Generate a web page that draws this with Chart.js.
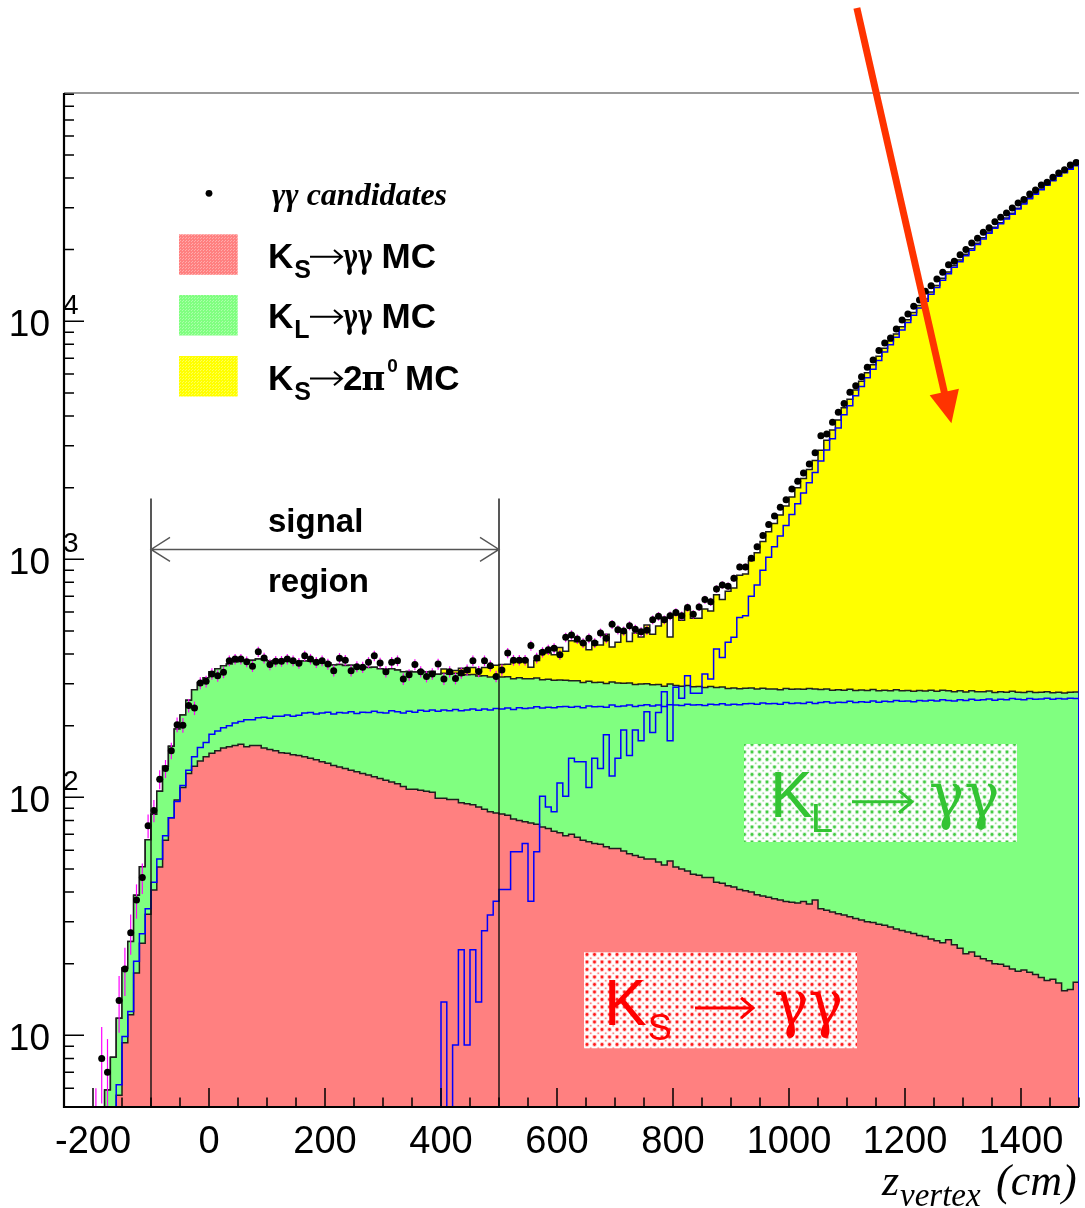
<!DOCTYPE html>
<html>
<head>
<meta charset="utf-8">
<script src="https://cdn.jsdelivr.net/npm/chart.js@4.4.1/dist/chart.umd.min.js"></script>
<style>
  html, body { margin: 0; padding: 0; background: #fff; }
  canvas { display: block; }
</style>
</head>
<body>
<canvas id="zvertex" width="1085" height="1208"></canvas>
<script>
// 10 cm bins from -250 to 1500 cm, one entry per bin (bin centres -245 ... 1495)
const zAxisMin = -250, zAxisMax = 1500, binWidth = 10;
const yAxisMin = 5, yAxisMax = 91000;
const xLabelValues = [-200, 0, 200, 400, 600, 800, 1000, 1200, 1400];
const yLabelValues = [10, 100, 1000, 10000];

// K_S -> gamma gamma MC
const ksGammaGamma = [
  0, 0, 0, 0, 0.3, 0.8, 1.6, 2.6, 3.8, 5.6,
  9.3, 12.2, 18.3, 24.4, 32.3, 40.8, 51, 66, 82, 97.5,
  110, 126, 135, 142, 148, 153, 157, 161, 163, 165,
  167, 163, 165, 165, 161, 159, 157, 154, 153, 151,
  150, 148, 146, 144, 141, 139, 136, 134, 132, 130,
  128, 126, 124, 122, 120, 118, 116, 114, 111, 108,
  108, 107, 106, 105, 99, 99, 98, 98, 95, 94,
  93, 91, 89, 87, 86, 85, 84, 81, 80, 79,
  78, 77, 75, 74, 72, 71, 69, 70, 68, 66,
  65, 64, 63.5, 62, 61, 61, 59.5, 58, 57, 56,
  55, 55, 53.5, 52, 54, 51, 50, 49, 47.5, 47,
  46, 46, 44, 43.5, 42.5, 42, 41, 40.5, 40, 39,
  38.5, 38, 37.5, 37, 36.5, 36.2, 36, 36.5, 35.6, 37,
  34, 33.5, 33, 32.4, 32, 31.5, 31, 30.5, 30, 29.8,
  29.3, 29, 28.5, 28, 27.6, 27.2, 26.8, 26.3, 26, 25.4,
  25, 24.5, 25.2, 24, 23.2, 22, 22.4, 21.5, 21, 20.6,
  20, 19.9, 19.5, 19, 18.6, 18.8, 18.4, 18, 17.5, 17,
  17.2, 16.6, 15.4, 15.6, 16.7
];

// K_L -> gamma gamma MC
const klGammaGamma = [
  0, 0, 0, 0, 0.4, 1.0, 2.0, 3.3, 4.3, 6.2,
  9.9, 12.6, 20.5, 26.7, 34, 44, 55, 69, 82, 96,
  112, 130, 148, 162, 170, 184, 190, 196, 200, 205,
  208, 212, 212, 216, 217, 215, 219, 219, 222, 219,
  221, 226, 227, 224, 226, 228, 224, 227, 226, 229,
  225, 228, 227, 230, 227, 226, 231, 229, 226, 230,
  228, 232, 230, 233, 230, 233, 231, 234, 231, 233,
  235, 232, 235, 233, 236, 235, 237, 234, 238, 236,
  237, 240, 237, 239, 238, 240, 241, 239, 241, 238,
  242, 240, 241, 239, 244, 241, 242, 244, 241, 243,
  245, 242, 244, 241, 245, 244, 243, 246, 244, 245,
  243, 246, 245, 247, 244, 246, 245, 247, 248, 246,
  249, 247, 248, 246, 250, 248, 249, 248, 251, 248,
  250, 252, 249, 251, 250, 253, 250, 252, 251, 254,
  251, 253, 252, 255, 253, 254, 252, 255, 254, 256,
  254, 257, 255, 254, 257, 255, 258, 256, 257, 259,
  256, 258, 257, 260, 258, 257, 260, 258, 259, 261,
  258, 260, 259, 261, 260
];

// K_S -> 2 pi0 MC
const ks2Pi0 = [
  0, 0, 0, 0, 0, 0, 0, 0, 0, 0,
  0, 0, 0, 0, 0, 0, 0, 0, 0, 0,
  0, 0, 0, 0, 0, 0, 0, 0, 0, 0,
  0, 0, 0, 0, 0, 0, 0, 0, 0, 0,
  0, 0, 0, 0, 0, 0, 0, 0, 0, 0,
  0, 0, 0, 0, 0, 0, 0, 0, 0, 0,
  0, 0, 0, 0, 0, 13.8, 0, 9.1, 22.9, 9.1,
  22.9, 13.8, 27.5, 32, 36.6, 41, 41, 59, 59, 64,
  36.6, 59, 101, 91, 87, 115, 101, 146, 141, 141,
  110, 146, 132, 183, 123, 146, 192, 150, 192, 173,
  229, 187, 227, 278, 173, 290, 261, 324, 274, 274,
  330, 314, 420, 387, 448, 470, 570, 579, 700, 780,
  900, 1020, 1130, 1252, 1388, 1544, 1711, 1899, 2096, 2316,
  2588, 2878, 3211, 3565, 4050, 4420, 4860, 5322, 5794, 6286,
  6842, 7421, 7973, 8560, 9195, 9873, 10606, 11374, 12125, 12990,
  13850, 14865, 15836, 16866, 17804, 18835, 19868, 21013, 22174, 23449,
  24567, 25678, 26899, 28183, 29600, 31100, 32753, 34159, 35699, 37306,
  38899, 40652, 42088, 43469, 45010
];

// gamma gamma candidates (data)
const candidates = [
  0, 0, 0, 0, 0, 4, 8, 7, 0, 14,
  19, 27, 37, 46, 76, 88, 119, 132, 157, 202,
  201, 243, 237, 302, 307, 330, 324, 335, 375, 381,
  381, 371, 355, 409, 385, 361, 373, 373, 381, 375,
  366, 393, 381, 369, 375, 363, 340, 384, 377, 340,
  354, 352, 369, 393, 367, 337, 369, 375, 314, 327,
  361, 337, 322, 330, 363, 314, 337, 316, 333, 343,
  375, 338, 375, 357, 322, 343, 404, 377, 377, 377,
  434, 385, 407, 417, 423, 397, 470, 481, 462, 445,
  466, 445, 490, 466, 533, 506, 500, 526, 508, 496,
  503, 557, 576, 557, 579, 598, 579, 627, 587, 631,
  677, 663, 750, 780, 771, 832, 929, 929, 1010, 1130,
  1260, 1400, 1520, 1653, 1780, 1974, 2128, 2306, 2515, 2800,
  3306, 3360, 3764, 4150, 4519, 5035, 5358, 5850, 6410, 6875,
  7530, 8110, 8510, 9290, 10120, 10720, 11560, 12280, 13360, 14110,
  15070, 16080, 17260, 17880, 19010, 20010, 21340, 22340, 23670, 24740,
  26200, 27330, 28510, 29930, 31410, 32450, 34290, 35640, 37380, 38370,
  40270, 41990, 43350, 45370, 46500
];

// signal region and the pointer arrow, in axis units
const signalRegion = [-100, 500];
const signalLineTop = 1800;
const signalArrowLevel = 1100;
const pointerFrom = { z: 1117, n: 207000 };
const pointerTo = { z: 1280, n: 3730 };

const binEdge = i => zAxisMin + i * binWidth;
// empty bins sit below the visible range (the log axis drops zeros)
const floorValue = yAxisMin / 100;

// step outline: value held from left edge of each bin, closed down at the right end
function histo(vals) {
  const pts = vals.map((v, i) => ({ x: binEdge(i), y: v > 0 ? v : floorValue }));
  pts.push({ x: zAxisMax, y: vals[vals.length - 1] }, { x: zAxisMax, y: floorValue });
  return pts;
}

const ksPlusKl = ksGammaGamma.map((v, i) => v + klGammaGamma[i]);
const mcTotal = ksPlusKl.map((v, i) => v + ks2Pi0[i]);

const SANS = '"Liberation Sans", Arial, Helvetica, sans-serif';
const SERIF = '"Liberation Serif", "Times New Roman", serif';
const GREEK = '"DejaVu Serif", "Liberation Serif", serif';

function put(ctx, text, x, y, font, color, align) {
  ctx.font = font;
  ctx.fillStyle = color;
  ctx.textAlign = align || 'left';
  ctx.textBaseline = 'alphabetic';
  ctx.fillText(text, x, y);
  return x + ctx.measureText(text).width;
}

// text squeezed horizontally (greek glyphs are wider than the symbol font)
function putNarrow(ctx, text, x, y, font, color, sx) {
  ctx.save();
  ctx.translate(x, y);
  ctx.scale(sx, 1);
  const w = put(ctx, text, 0, 0, font, color);
  ctx.restore();
  return x + w * sx;
}

function thinArrow(ctx, x1, x2, y, w, head, color) {
  ctx.save();
  ctx.strokeStyle = color;
  ctx.lineWidth = w;
  ctx.lineJoin = 'miter';
  ctx.beginPath();
  ctx.moveTo(x1, y); ctx.lineTo(x2, y);
  ctx.moveTo(x2 - head, y - head * 0.85); ctx.lineTo(x2, y); ctx.lineTo(x2 - head, y + head * 0.85);
  ctx.stroke();
  ctx.restore();
}

function dotPattern(ctx, color, halo) {
  const c = document.createElement('canvas');
  c.width = 15; c.height = 15;
  const g = c.getContext('2d');
  g.fillStyle = '#fff';
  g.fillRect(0, 0, 15, 15);
  const spots = [[2, 2], [9.5, 2], [2, 9.5], [9.5, 9.5], [5.75, 5.75], [13.25, 5.75], [5.75, 13.25], [13.25, 13.25]];
  spots.forEach(([px, py], k) => {
    const main = k < 4;
    g.globalAlpha = main ? 1 : 0.55;
    g.fillStyle = halo;
    g.beginPath(); g.arc(px, py, main ? 2.4 : 1.6, 0, Math.PI * 2); g.fill();
    g.fillStyle = color;
    g.beginPath(); g.arc(px, py, main ? 1.4 : 0.8, 0, Math.PI * 2); g.fill();
  });
  return ctx.createPattern(c, 'repeat');
}

function speckle(ctx, base) {
  const c = document.createElement('canvas');
  c.width = 3; c.height = 3;
  const g = c.getContext('2d');
  g.fillStyle = base;
  g.fillRect(0, 0, 3, 3);
  g.fillStyle = 'rgba(255,255,255,0.35)';
  g.fillRect(0, 0, 1, 1);
  g.fillRect(2, 1, 1, 1);
  return ctx.createPattern(c, 'repeat');
}

// magenta sqrt(N) error bars underneath the data markers
const errorBars = {
  id: 'errorBars',
  beforeDatasetDraw(chart, args) {
    if (args.index !== 0) return;
    const { ctx, chartArea: a, scales: { x, y } } = chart;
    ctx.save();
    ctx.beginPath();
    ctx.rect(a.left, a.top, a.right - a.left, a.bottom - a.top);
    ctx.clip();
    ctx.strokeStyle = '#ff00ff';
    ctx.lineWidth = 1.2;
    candidates.forEach((n, i) => {
      if (!n) return;
      const px = x.getPixelForValue(binEdge(i) + binWidth / 2);
      const e = Math.sqrt(n);
      const lo = n - e > 0 ? n - e : floorValue;
      ctx.beginPath();
      ctx.moveTo(px, y.getPixelForValue(lo));
      ctx.lineTo(px, y.getPixelForValue(n + e));
      ctx.stroke();
    });
    ctx.restore();
  }
};

// ROOT-like frame: inward ticks, 10^n labels, axis title, annotations
const rootFrame = {
  id: 'rootFrame',
  afterDatasetsDraw(chart) {
    const { ctx, chartArea: a, scales: { x, y } } = chart;
    ctx.save();

    // signal region
    ctx.strokeStyle = '#111';
    ctx.lineWidth = 1.4;
    signalRegion.forEach(z => {
      const px = x.getPixelForValue(z);
      ctx.beginPath();
      ctx.moveTo(px, y.getPixelForValue(signalLineTop));
      ctx.lineTo(px, a.bottom);
      ctx.stroke();
    });
    const sx1 = x.getPixelForValue(signalRegion[0]);
    const sx2 = x.getPixelForValue(signalRegion[1]);
    const sy = y.getPixelForValue(signalArrowLevel);
    ctx.strokeStyle = '#555';
    ctx.lineWidth = 1.4;
    ctx.beginPath();
    ctx.moveTo(sx1, sy); ctx.lineTo(sx2, sy);
    ctx.moveTo(sx1 + 19, sy - 12); ctx.lineTo(sx1, sy); ctx.lineTo(sx1 + 19, sy + 12);
    ctx.moveTo(sx2 - 19, sy - 12); ctx.lineTo(sx2, sy); ctx.lineTo(sx2 - 19, sy + 12);
    ctx.stroke();
    put(ctx, 'signal', 268, 531.5, 'bold 33px ' + SANS, '#000');
    put(ctx, 'region', 268, 591.5, 'bold 33px ' + SANS, '#000');

    // frame
    ctx.strokeStyle = '#777';
    ctx.lineWidth = 1.5;
    ctx.beginPath();
    ctx.moveTo(a.left, a.top); ctx.lineTo(a.right, a.top);
    ctx.stroke();
    ctx.strokeStyle = '#000';
    ctx.lineWidth = 2.2;
    ctx.beginPath();
    ctx.moveTo(a.left, a.top); ctx.lineTo(a.left, a.bottom); ctx.lineTo(a.right, a.bottom);
    ctx.stroke();

    // x ticks every 50 cm, long every 200 cm
    ctx.lineWidth = 1.5;
    ctx.beginPath();
    for (let z = zAxisMin; z <= zAxisMax; z += 50) {
      const px = x.getPixelForValue(z);
      const len = z % 200 === 0 ? 19 : 9.5;
      ctx.moveTo(px, a.bottom); ctx.lineTo(px, a.bottom - len);
    }
    // y ticks, log decades
    for (let d = 1; d <= 100000; d *= 10) {
      for (let m = 1; m <= 9; m++) {
        const v = m * d;
        if (v < yAxisMin || v > yAxisMax) continue;
        const py = y.getPixelForValue(v);
        const len = m === 1 ? 20 : 10;
        ctx.moveTo(a.left, py); ctx.lineTo(a.left + len, py);
      }
    }
    ctx.stroke();

    xLabelValues.forEach(z => {
      put(ctx, String(z), x.getPixelForValue(z), 1152.5, '38px ' + SANS, '#000', 'center');
    });
    yLabelValues.forEach(v => {
      const py = y.getPixelForValue(v);
      put(ctx, '10', 50, py + 14.5, '37px ' + SANS, '#000', 'right');
      const exp = Math.round(Math.log10(v));
      if (exp > 1) put(ctx, String(exp), 63, py - 7, '28px ' + SANS, '#000');
    });

    // axis title
    put(ctx, 'z', 882, 1195, 'italic 44px ' + SERIF, '#000');
    put(ctx, 'vertex', 900, 1206, 'italic 33px ' + SERIF, '#000');
    put(ctx, '(cm)', 996, 1195, 'italic 44px ' + SERIF, '#000');

    ctx.restore();
  },

  afterDraw(chart) {
    const { ctx, scales: { x, y } } = chart;
    ctx.save();

    // legend
    ctx.fillStyle = '#000';
    ctx.beginPath(); ctx.arc(209, 193.3, 3.4, 0, Math.PI * 2); ctx.fill();
    put(ctx, 'γγ candidates', 272, 205, 'bold italic 32px ' + SERIF, '#000');

    const boxes = [['#ff8080', 234.3], ['#80ff80', 295], ['#ffff00', 356]];
    boxes.forEach(([col, top]) => {
      ctx.fillStyle = speckle(ctx, col);
      ctx.fillRect(179, top, 58.7, 40.5);
    });

    const rows = [[268.3, 'S'], [328.3, 'L'], [390, 'S']];
    rows.forEach(([base, sub], k) => {
      let cx = put(ctx, 'K', 268, base, 'bold 35px ' + SANS, '#000');
      put(ctx, sub, cx + 1, base + 10, 'bold 25px ' + SANS, '#000');
      thinArrow(ctx, 310, 342, base - 11.5, 2, 8, '#000');
      if (k < 2) {
        putNarrow(ctx, 'γγ', 343, base, 'bold 33px ' + GREEK, '#000', 0.68);
        put(ctx, 'MC', 381.5, base, 'bold 35px ' + SANS, '#000');
      } else {
        cx = put(ctx, '2', 343, base, 'bold 35px ' + SANS, '#000');
        cx = putNarrow(ctx, 'π', cx - 1, base, 'bold 36px ' + GREEK, '#000', 0.9);
        put(ctx, '0', cx + 2, base - 18.5, 'bold 19px ' + SANS, '#000');
        put(ctx, 'MC', 405, base, 'bold 35px ' + SANS, '#000');
      }
    });

    // process labels on dotted boxes
    ctx.fillStyle = dotPattern(ctx, 'rgba(60,200,60,0.95)', 'rgba(60,200,60,0.25)');
    ctx.fillRect(744, 744, 273, 98);
    const green = '#33c433';
    let gx = put(ctx, 'K', 770, 816.7, '64px ' + SANS, green);
    put(ctx, 'L', gx - 2, 832, '40px ' + SANS, green);
    thinArrow(ctx, 852, 912, 801.7, 3, 13, green);
    putNarrow(ctx, 'γγ', 929, 817, '64px ' + GREEK, green, 0.92);

    ctx.fillStyle = dotPattern(ctx, 'rgba(255,20,20,0.95)', 'rgba(255,20,20,0.25)');
    ctx.fillRect(584, 952.3, 273, 96);
    const red = '#ff0000';
    let rx = put(ctx, 'K', 604, 1025, '64px ' + SANS, red);
    put(ctx, 'S', rx + 1, 1040, '36px ' + SANS, red);
    thinArrow(ctx, 695, 753, 1008, 3, 12, red);
    putNarrow(ctx, 'γγ', 774, 1025, '64px ' + GREEK, red, 0.9);

    // pointer arrow towards the K_S -> 2pi0 tail
    const p0 = { x: x.getPixelForValue(pointerFrom.z), y: y.getPixelForValue(pointerFrom.n) };
    const p1 = { x: x.getPixelForValue(pointerTo.z), y: y.getPixelForValue(pointerTo.n) };
    const dx = p1.x - p0.x, dy = p1.y - p0.y;
    const len = Math.hypot(dx, dy);
    const ux = dx / len, uy = dy / len;
    const headLen = 32, headHalf = 15;
    const bx = p1.x - ux * headLen, by = p1.y - uy * headLen;
    ctx.strokeStyle = '#ff3300';
    ctx.fillStyle = '#ff3300';
    ctx.lineWidth = 7;
    ctx.beginPath();
    ctx.moveTo(p0.x, p0.y); ctx.lineTo(bx + ux * 2, by + uy * 2);
    ctx.stroke();
    ctx.beginPath();
    ctx.moveTo(p1.x, p1.y);
    ctx.lineTo(bx - uy * headHalf, by + ux * headHalf);
    ctx.lineTo(bx + uy * headHalf, by - ux * headHalf);
    ctx.closePath();
    ctx.fill();

    ctx.restore();
  }
};

const histLine = { stepped: true, pointRadius: 0, borderWidth: 1.5 };

new Chart(document.getElementById('zvertex'), {
  type: 'line',
  data: {
    datasets: [
      {
        label: 'γγ candidates',
        data: candidates.map((n, i) => ({ x: binEdge(i) + binWidth / 2, y: n > 0 ? n : null })),
        showLine: false,
        pointRadius: 3.5,
        pointBorderWidth: 0,
        pointBackgroundColor: '#000',
        borderColor: '#000'
      },
      { ...histLine, label: 'K_S → 2π0', data: histo(ks2Pi0), borderColor: '#0000ff', fill: false },
      { ...histLine, label: 'K_L → γγ', data: histo(klGammaGamma), borderColor: '#0000ff', fill: false },
      { ...histLine, label: 'K_S → γγ MC', data: histo(ksGammaGamma), borderColor: '#1e1e1e', backgroundColor: '#ff8080', fill: 'start' },
      { ...histLine, label: 'K_L → γγ MC', data: histo(ksPlusKl), borderColor: '#1e1e1e', backgroundColor: '#80ff80', fill: 'start' },
      { ...histLine, label: 'K_S → 2π0 MC', data: histo(mcTotal), borderColor: '#1e1e1e', backgroundColor: '#ffff00', fill: 'start' }
    ]
  },
  options: {
    responsive: false,
    animation: false,
    devicePixelRatio: 1,
    events: [],
    layout: { padding: { left: 64, top: 93, right: 6, bottom: 101 } },
    scales: {
      x: { type: 'linear', min: zAxisMin, max: zAxisMax, display: false },
      y: { type: 'logarithmic', min: yAxisMin, max: yAxisMax, display: false }
    },
    plugins: {
      legend: { display: false },
      tooltip: { enabled: false }
    }
  },
  plugins: [errorBars, rootFrame]
});
</script>
</body>
</html>
